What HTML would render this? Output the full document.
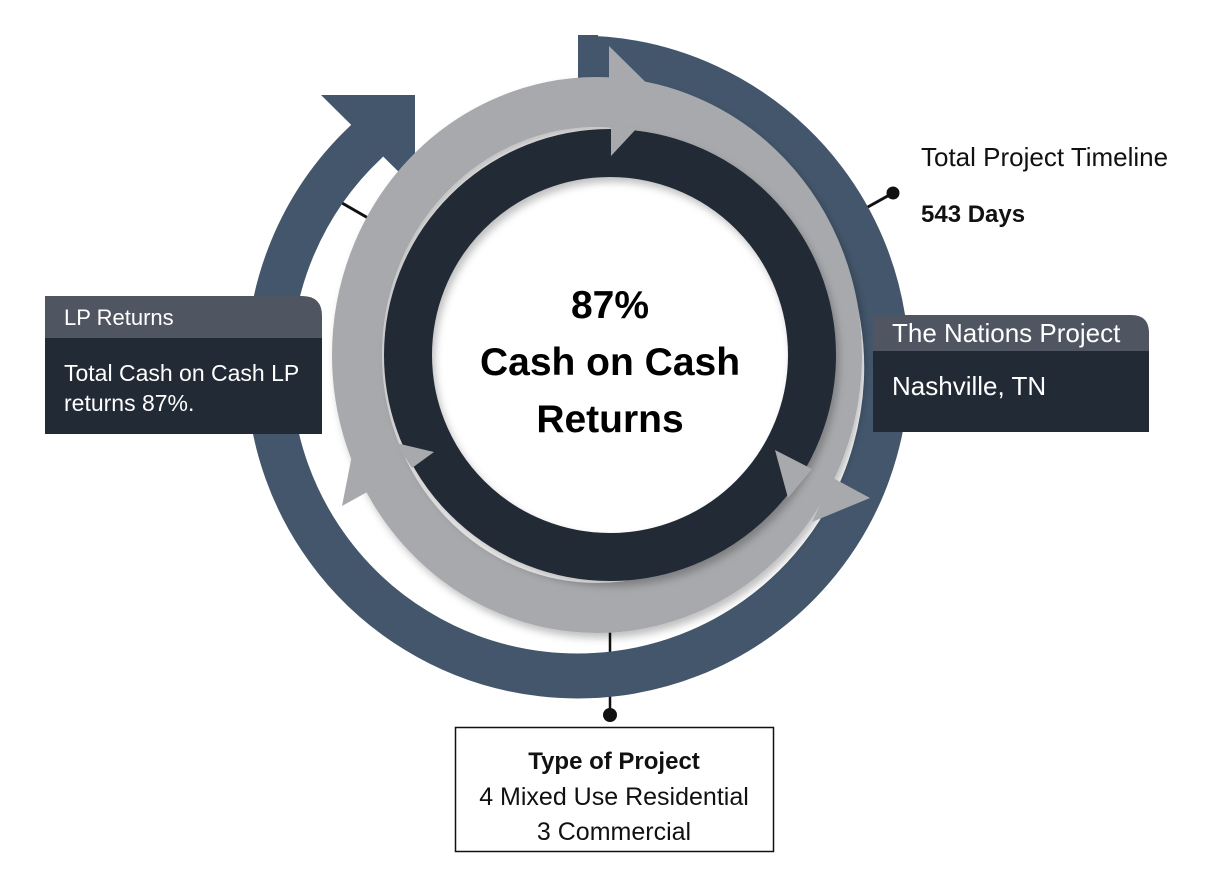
<!DOCTYPE html>
<html><head><meta charset="utf-8"><style>
html,body{margin:0;padding:0;background:#fff;}
body{width:1216px;height:882px;position:relative;overflow:hidden;font-family:"Liberation Sans",Roboto,sans-serif;}
svg{position:absolute;left:0;top:0;}
.t{position:absolute;white-space:nowrap;}
</style></head><body>
<svg width="1216" height="882" viewBox="0 0 1216 882">
  <defs>
    <filter id="sh" x="-10%" y="-10%" width="120%" height="120%">
      <feDropShadow dx="3" dy="5" stdDeviation="4" flood-color="#000" flood-opacity="0.25"/>
    </filter>
  </defs>
  <line x1="610" y1="630" x2="610" y2="715" stroke="#111" stroke-width="2.5"/>
  <circle cx="610" cy="715" r="7" fill="#111"/>
  <line x1="342" y1="203" x2="368" y2="218" stroke="#111" stroke-width="3"/>
  <line x1="893" y1="193" x2="866" y2="208" stroke="#111" stroke-width="3"/>
  <circle cx="893" cy="193" r="6.5" fill="#111"/>
  <path d="M578,58 A309,309 0 1 1 368,140" fill="none" stroke="#43566b" stroke-width="45"/>
  <rect x="578" y="35" width="20" height="46" fill="#43566b"/>
  <polygon points="321,95 415,95 415,188" fill="#43566b"/>
  <g filter="url(#sh)">
    <ellipse cx="597" cy="355" rx="240" ry="253" fill="none" stroke="#a7a9ac" stroke-width="50"/>
  </g>
  <polygon points="609,46 682,118 609,128" fill="#a7a9ac"/>
  <polygon points="833,478 870,498 812,522" fill="#a7a9ac"/>
  <polygon points="352,455 342,506 378,486" fill="#a7a9ac"/>
  <g filter="url(#sh)">
    <circle cx="610" cy="355" r="202" fill="none" stroke="#222a35" stroke-width="48"/>
  </g>
  <polygon points="611,126 611,156 637,128" fill="#a7a9ac"/>
  <polygon points="775,450 812,469 788,498" fill="#a7a9ac"/>
  <polygon points="396,443 434,452 412,468" fill="#a7a9ac"/>
  <path d="M45,296 H302 Q322,296 322,316 V338 H45 Z" fill="#4f5661"/>
  <rect x="45" y="338" width="277" height="96" fill="#222a35"/>
  <path d="M873,315 H1131 Q1149,315 1149,333 V351 H873 Z" fill="#4f5661"/>
  <rect x="873" y="351" width="276" height="81" fill="#222a35"/>
  <rect x="455.5" y="727.5" width="318" height="124" fill="#fff" stroke="#111" stroke-width="1.5"/>
</svg>
<div class="t" style="left:64px;top:305px;font-size:22px;color:#fff;">LP Returns</div>
<div class="t" style="left:64px;top:358px;font-size:23px;color:#fff;line-height:30px;">Total Cash on Cash LP<br>returns 87%.</div>
<div class="t" style="left:892px;top:318px;font-size:26px;color:#fff;">The Nations Project</div>
<div class="t" style="left:892px;top:371px;font-size:26px;color:#fff;">Nashville, TN</div>
<div class="t" style="left:921px;top:142px;font-size:26px;color:#111;">Total Project Timeline</div>
<div class="t" style="left:921px;top:201px;font-size:24px;color:#111;font-weight:bold;">543 Days</div>
<div class="t" style="left:455px;width:318px;top:744px;text-align:center;font-size:25px;line-height:35.5px;color:#111;"><b style="font-size:24px">Type of Project</b><br>4 Mixed Use Residential<br>3 Commercial</div>
<div class="t" style="left:410px;width:400px;top:277px;text-align:center;font-size:39px;font-weight:bold;color:#000;line-height:57px;">87%<br>Cash on Cash<br>Returns</div>
</body></html>
